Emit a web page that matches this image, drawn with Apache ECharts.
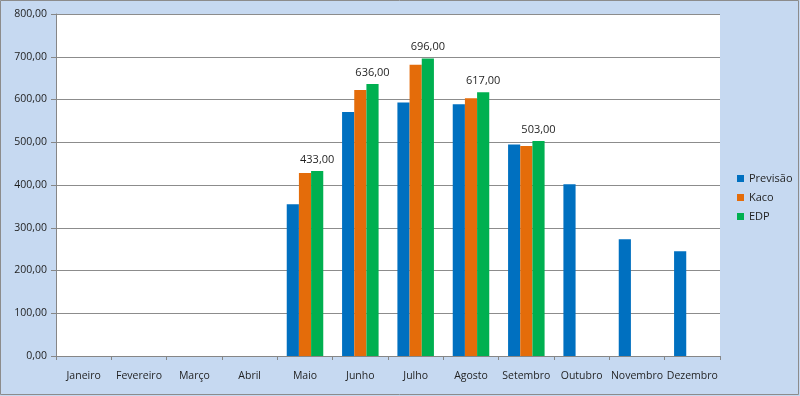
<!DOCTYPE html>
<html><head><meta charset="utf-8">
<script src="https://cdn.jsdelivr.net/npm/echarts@6/dist/echarts.min.js"></script>
<style>html,body{margin:0;padding:0;background:#fff}#c{width:800px;height:396px}</style>
</head><body><div id="c"></div>
<script>
const categories = ['Janeiro','Fevereiro','Março','Abril','Maio','Junho','Julho','Agosto','Setembro','Outubro','Novembro','Dezembro'];
const previsao = [null,null,null,null,355,571,593,589,495,402,273,245];
const kaco = [null,null,null,null,428,622,681,603,491,null,null,null];
const edp = [null,null,null,null,433,636,696,617,503,null,null,null];
const seriesNames = ['Previsão','Kaco','EDP'];
const yTicks = [0,100,200,300,400,500,600,700,800];

const fmt = v => Number(v).toFixed(2).replace('.', ',');
const font = 'Open Sans, Noto Sans, sans-serif';
const chart = echarts.init(document.getElementById('c'), null, {renderer:'canvas'});
chart.setOption({
  backgroundColor: '#c6d9f1',
  animation: false,
  textStyle: {fontFamily: font},
  graphic: [
    {type:'rect', shape:{x:0.5,y:0.5,width:798,height:394}, style:{fill:'none', stroke:'#8c8c8c', lineWidth:1}, silent:true},
    {type:'rect', shape:{x:56,y:14,width:664,height:342}, style:{fill:'#ffffff'}, z:-1, silent:true}
  ],
  grid: {left:56, right:80, top:14, bottom:40, containLabel:false},
  legend: {
    orient:'vertical', left:732, top:168, itemWidth:7, itemHeight:7, itemGap:8,
    icon:'rect',
    textStyle:{fontSize:11, color:'#1f1f1f', fontFamily:font},
    data: seriesNames
  },
  xAxis: {
    type:'category', data: categories,
    axisLine:{lineStyle:{color:'#868686'}},
    axisTick:{show:true, length:4, lineStyle:{color:'#868686'}},
    axisLabel:{fontSize:10.5, color:'#1f1f1f', margin:15, interval:0, fontFamily:font}
  },
  yAxis: {
    type:'value', min: yTicks[0], max: yTicks[yTicks.length-1], interval: 100,
    axisLine:{show:true, lineStyle:{color:'#868686'}},
    axisTick:{show:true, length:5, lineStyle:{color:'#868686'}},
    splitLine:{lineStyle:{color:'#8c8c8c'}},
    axisLabel:{fontSize:10.5, color:'#1f1f1f', margin:9, formatter: v => fmt(v), fontFamily:font}
  },
  series: [
    {name:seriesNames[0], type:'bar', data: previsao, barGap:'0%', barCategoryGap:'34%', itemStyle:{color:'#0070c0'}},
    {name:seriesNames[1], type:'bar', data: kaco, itemStyle:{color:'#e46c0a'}},
    {name:seriesNames[2], type:'bar', data: edp, itemStyle:{color:'#00b050'},
      label:{show:true, position:'top', distance:6, fontSize:11, color:'#1f1f1f', fontFamily:font, formatter: p => fmt(p.value)}}
  ]
});
</script></body></html>
